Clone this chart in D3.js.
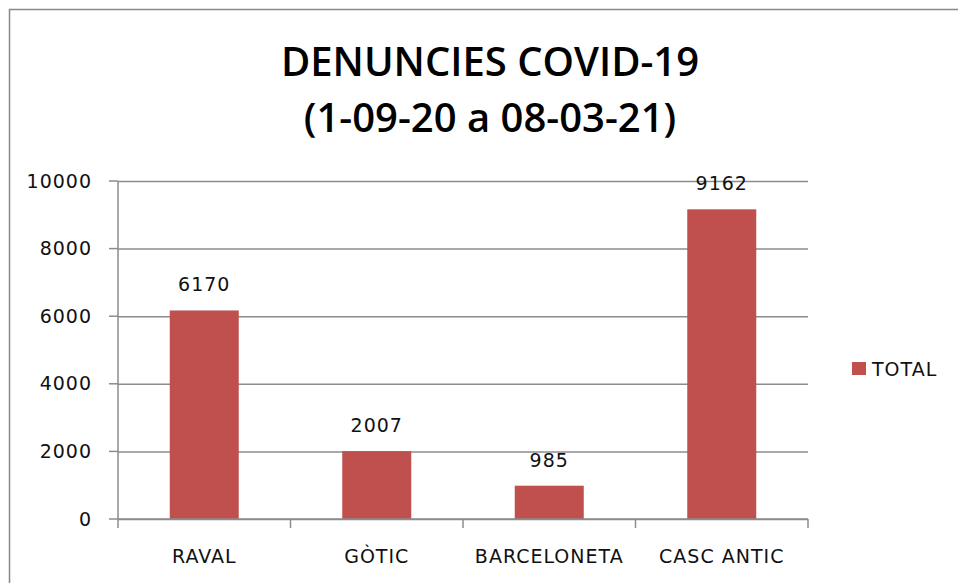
<!DOCTYPE html>
<html>
<head>
<meta charset="utf-8">
<script src="https://cdn.jsdelivr.net/npm/d3@7"></script>
<style>
  html, body { margin: 0; padding: 0; background: #fff; }
  svg { display: block; }
</style>
</head>
<body>
<div id="chart"></div>
<script>
// Data
const categories = ['RAVAL', 'GÒTIC', 'BARCELONETA', 'CASC ANTIC'];
const totals = [6170, 2007, 985, 9162];
const yTicks = [0, 2000, 4000, 6000, 8000, 10000];
const seriesName = 'TOTAL';
const titleLines = ['DENUNCIES COVID-19', '(1-09-20 a 08-03-21)'];

const W = 958, H = 583;
const m = { top: 181, right: 150, bottom: 64, left: 118 };
const w = 808 - m.left;
const h = 519 - m.top;

const BAR = '#C0504D';
const GRID = '#8c8c8c';
const labelFont = '"DejaVu Sans", Verdana, sans-serif';
const labelSize = 19;
const labelSpacing = 1;

const svg = d3.select('#chart').append('svg')
  .attr('width', W).attr('height', H);

// chart frame (runs past the right/bottom edges)
svg.append('rect')
  .attr('x', 9.5).attr('y', 9.5).attr('width', W + 20).attr('height', H + 20)
  .attr('fill', 'none').attr('stroke', '#888').attr('stroke-width', 1.5);

// Title
const title = svg.append('text')
  .attr('text-anchor', 'middle')
  .attr('font-family', '"Open Sans", "Noto Sans", sans-serif')
  .attr('font-weight', 600).attr('font-size', 40).attr('fill', '#000');
titleLines.forEach((t, i) => {
  title.append('tspan').attr('x', 490).attr('y', 76 + i * 56).text(t);
});

const g = svg.append('g').attr('transform', `translate(${m.left},${m.top})`);

const x = d3.scaleBand().domain(categories).range([0, w]).paddingInner(0.6).paddingOuter(0.3);
const xTicks = d3.scaleLinear().domain([0, categories.length]).range([0, w]);
const y = d3.scaleLinear().domain([0, 10000]).range([h, 0]);

const styleText = sel => sel
  .attr('font-family', labelFont).attr('font-size', labelSize)
  .attr('letter-spacing', labelSpacing).attr('fill', '#111');

// gridlines + y axis
g.append('g')
  .call(d3.axisLeft(y).tickValues(yTicks).tickFormat(d3.format('d'))
    .tickSize(-w).tickSizeOuter(0).tickPadding(26))
  .call(ax => ax.select('.domain').remove())
  .call(ax => ax.selectAll('line').attr('stroke', GRID).attr('stroke-width', 1.5))
  .call(ax => ax.selectAll('text').call(styleText));

// y tick stubs left of axis
g.append('g').selectAll('line').data(yTicks).join('line')
  .attr('x1', -9).attr('x2', 0)
  .attr('y1', d => y(d)).attr('y2', d => y(d))
  .attr('stroke', GRID).attr('stroke-width', 1.5);

// y axis line
g.append('line').attr('x1', 0).attr('x2', 0).attr('y1', 0).attr('y2', h)
  .attr('stroke', GRID).attr('stroke-width', 1.5);

// bars
g.selectAll('rect.bar').data(totals).join('rect')
  .attr('class', 'bar')
  .attr('x', (d, i) => x(categories[i]))
  .attr('y', d => y(d))
  .attr('width', x.bandwidth())
  .attr('height', d => h - y(d))
  .attr('fill', BAR);

// x axis
g.append('line').attr('x1', 0).attr('x2', w).attr('y1', h).attr('y2', h)
  .attr('stroke', GRID).attr('stroke-width', 1.5);
g.append('g').selectAll('line').data(d3.range(categories.length + 1)).join('line')
  .attr('x1', d => xTicks(d)).attr('x2', d => xTicks(d))
  .attr('y1', h).attr('y2', h + 9)
  .attr('stroke', GRID).attr('stroke-width', 1.5);

g.append('g').selectAll('text').data(categories).join('text')
  .attr('x', d => x(d) + x.bandwidth() / 2)
  .attr('y', h + 44)
  .attr('text-anchor', 'middle')
  .call(styleText)
  .text(d => d);

// data labels
g.selectAll('text.val').data(totals).join('text')
  .attr('class', 'val')
  .attr('x', (d, i) => x(categories[i]) + x.bandwidth() / 2)
  .attr('y', d => y(d) - 19)
  .attr('text-anchor', 'middle')
  .call(styleText)
  .text(d => d);

// legend
const leg = svg.append('g').attr('transform', 'translate(852,362)');
leg.append('rect').attr('width', 14).attr('height', 13).attr('fill', BAR);
leg.append('text').attr('x', 20).attr('y', 14)
  .call(styleText)
  .text(seriesName);
</script>
</body>
</html>
